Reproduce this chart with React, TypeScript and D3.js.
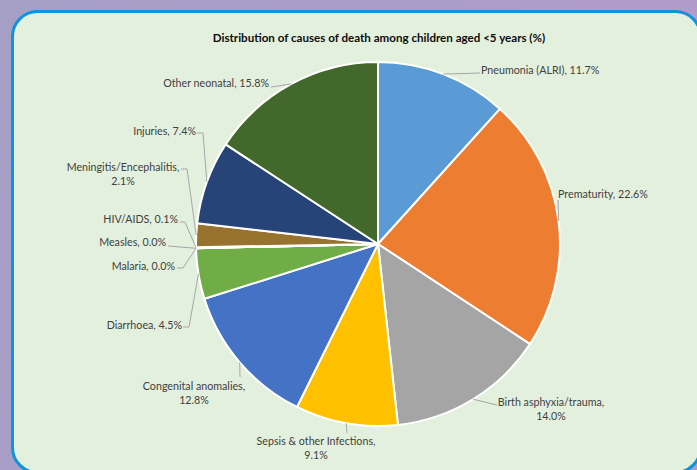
import React from "react";
import * as d3 from "d3";

const title = "Distribution of causes of death among children aged <5 years (%)";
const categories = [
  "Pneumonia (ALRI)",
  "Prematurity",
  "Birth asphyxia/trauma",
  "Sepsis & other Infections",
  "Congenital anomalies",
  "Diarrhoea",
  "Malaria",
  "Measles",
  "HIV/AIDS",
  "Meningitis/Encephalitis",
  "Injuries",
  "Other neonatal",
];
const values = [11.7, 22.6, 14.0, 9.1, 12.8, 4.5, 0.0, 0.0, 0.1, 2.1, 7.4, 15.8];
const colors = [
  "#5b9bd5", "#ed7d31", "#a5a5a5", "#ffc000", "#4472c4", "#70ad47",
  "#255e91", "#9e480e", "#636363", "#98732f", "#264478", "#43682b",
];

// label layout (text anchor point, lines split, leader points from label side)
type LabelLayout = { x: number; y: number; anchor: "start" | "middle" | "end"; split: boolean; leader: [number, number][] };
const labelLayout: LabelLayout[] = [
  { x: 481, y: 70, anchor: "start", split: false, leader: [[480, 73]] },
  { x: 558, y: 194, anchor: "start", split: false, leader: [[558, 200]] },
  { x: 551, y: 402, anchor: "middle", split: true, leader: [[497, 405]] },
  { x: 316, y: 441, anchor: "middle", split: true, leader: [[347, 433]] },
  { x: 194, y: 386, anchor: "middle", split: true, leader: [[240, 377]] },
  { x: 182, y: 325, anchor: "end", split: false, leader: [[183, 327], [189, 327]] },
  { x: 175, y: 266, anchor: "end", split: false, leader: [[177, 268], [183, 268]] },
  { x: 166, y: 242, anchor: "end", split: false, leader: [[168, 246]] },
  { x: 178, y: 219, anchor: "end", split: false, leader: [[180, 222], [185, 222]] },
  { x: 123, y: 167, anchor: "middle", split: true, leader: [[181, 169], [187, 169]] },
  { x: 196, y: 131, anchor: "end", split: false, leader: [[197, 133], [203, 133]] },
  { x: 269, y: 83, anchor: "end", split: false, leader: [[271, 87]] },
];

const W = 697;
const H = 470;
const cx = 378;
const cy = 244;
const R = 182;
const FONT = "Lato, 'Noto Sans', sans-serif";

export default function App() {
  const pie = d3
    .pie<number>()
    .sort(null)
    .value((d) => d)
    .startAngle(0)
    .endAngle(2 * Math.PI);
  const arcs = pie(values);
  const arc = d3.arc<d3.PieArcDatum<number>>().innerRadius(0).outerRadius(R);
  const line = d3.line();
  const fmt = d3.format(".1f");

  return (
    <svg
      width={W}
      height={H}
      viewBox={`0 0 ${W} ${H}`}
      style={{ position: "absolute", left: 0, top: 0, display: "block" }}
    >
      <defs>
        <linearGradient id="bg" x1="0" y1="0" x2="1" y2="0.3">
          <stop offset="0" stopColor="#a59fc6" />
          <stop offset="0.55" stopColor="#ab9dc8" />
          <stop offset="1" stopColor="#b39bca" />
        </linearGradient>
      </defs>
      <rect x={0} y={0} width={W} height={H} fill="url(#bg)" />
      <rect
        x={12.5}
        y={11.5}
        width={688}
        height={461}
        rx={25}
        ry={25}
        fill="#e4f0de"
        stroke="#0e95d9"
        strokeWidth={3}
      />
      <text
        x={379}
        y={42}
        textAnchor="middle"
        fontFamily={FONT}
        fontWeight="bold"
        fontSize={11.6}
        fill="#0d0d0d"
      >
        {title}
      </text>
      <g transform={`translate(${cx},${cy})`}>
        {arcs.map((a, i) => (
          <path key={i} d={arc(a) || ""} fill={colors[i]} stroke="#ffffff" strokeWidth={2} strokeLinejoin="round" />
        ))}
      </g>
      {arcs.map((a, i) => {
        const mid = (a.startAngle + a.endAngle) / 2;
        const px = cx + R * Math.sin(mid);
        const py = cy - R * Math.cos(mid);
        const L = labelLayout[i];
        const pts: [number, number][] = [...L.leader, [px, py]];
        return <path key={"l" + i} d={line(pts) || ""} fill="none" stroke="#a6a6a6" strokeWidth={1} />;
      })}
      {arcs.map((a, i) => {
        const L = labelLayout[i];
        const name = categories[i] + ",";
        const pct = fmt(values[i]) + "%";
        const lines = L.split ? [name, pct] : [name + " " + pct];
        return (
          <text
            key={"t" + i}
            x={L.x}
            y={L.y + 3.8}
            textAnchor={L.anchor}
            fontFamily={FONT}
            fontSize={10.7}
            fill="#404040"
          >
            {lines.map((t, j) => (
              <tspan key={j} x={L.x} dy={j === 0 ? 0 : 14}>
                {t}
              </tspan>
            ))}
          </text>
        );
      })}
    </svg>
  );
}
